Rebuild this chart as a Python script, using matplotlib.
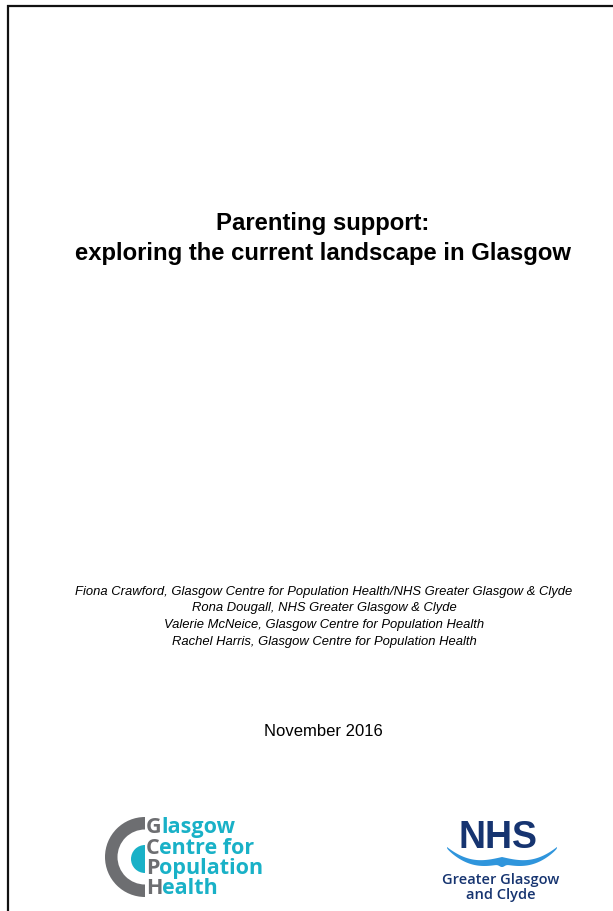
import matplotlib
matplotlib.use("Agg")
import matplotlib.pyplot as plt
from matplotlib.patches import Wedge, Polygon
import numpy as np

W, H = 613, 911
title_lines = ["Parenting support:", "exploring the current landscape in Glasgow"]
author_lines = [
    "Fiona Crawford, Glasgow Centre for Population Health/NHS Greater Glasgow & Clyde",
    "Rona Dougall, NHS Greater Glasgow & Clyde",
    "Valerie McNeice, Glasgow Centre for Population Health",
    "Rachel Harris, Glasgow Centre for Population Health",
]
date_text = "November 2016"
gcph_words = ["Glasgow", "Centre for", "Population", "Health"]
nhs_lines = ["Greater Glasgow", "and Clyde"]

GRAY = "#6d6e71"
TEAL = "#19b1c7"
NAVY = "#163470"
BLUE = "#2f95dc"

fig = plt.figure(figsize=(W / 100, H / 100), dpi=100)
ax = fig.add_axes([0, 0, 1, 1])
ax.set_xlim(0, W)
ax.set_ylim(H, 0)
ax.set_aspect("equal")
ax.axis("off")

# page border (left and top)
ax.plot([8, 8], [5, H], color="#111111", lw=1.6, solid_capstyle="butt")
ax.plot([7, W], [5.5, 5.5], color="#111111", lw=1.6, solid_capstyle="butt")

fam = ["Liberation Sans", "DejaVu Sans"]
cx = 323
ax.text(cx, 230, title_lines[0], ha="center", va="baseline", fontsize=17.2,
        fontweight="bold", family=fam, color="#000000")
ax.text(cx, 260, title_lines[1], ha="center", va="baseline", fontsize=17.2,
        fontweight="bold", family=fam, color="#000000")

for i, line in enumerate(author_lines):
    ax.text(324, 595 + i * 16.5, line, ha="center", va="baseline", fontsize=9.4,
            style="italic", family=fam, color="#000000")

ax.text(323, 736, date_text, ha="center", va="baseline", fontsize=12,
        family=fam, color="#000000")

# GCPH logo
ax.add_patch(Wedge((145, 857), 40, 90, 270, width=12.5, facecolor=GRAY, edgecolor="none"))
ax.add_patch(Wedge((145, 859), 14, 90, 270, facecolor=TEAL, edgecolor="none"))

fig.canvas.draw()
renderer = fig.canvas.get_renderer()
baselines = [833, 854, 874, 894]
for word, yb in zip(gcph_words, baselines):
    t1 = ax.text(146, yb, word[0], ha="left", va="baseline", fontsize=15.5,
                 fontweight="bold", family=["Open Sans", "DejaVu Sans"], color=GRAY)
    bb = t1.get_window_extent(renderer)
    x_end = ax.transData.inverted().transform((bb.x1, bb.y0))[0]
    ax.text(x_end - 0.5, yb, word[1:], ha="left", va="baseline", fontsize=15.5,
            fontweight="bold", family=["Open Sans", "DejaVu Sans"], color=TEAL)

# NHS logo
ax.text(498, 848, "NHS", ha="center", va="baseline", fontsize=27,
        fontweight="bold", family=fam, color=NAVY)
# wave: two bowl-shaped wings meeting in a small drooping point at the centre
u = np.linspace(0, 1, 80)
def wing(sign):
    xs = 502 + sign * 55 * u
    upper = 857 - 10 * u ** 3 + 4 * np.sin(np.pi * u)
    lower = upper + 1 + 6 * np.sqrt(1 - u) + 3 * np.exp(-(u / 0.06) ** 2)
    return np.vstack([np.column_stack([xs, upper]),
                      np.column_stack([xs, lower])[::-1]])
for s in (-1, 1):
    ax.add_patch(Polygon(wing(s), closed=True, facecolor=BLUE, edgecolor="none"))

ax.text(501, 884, nhs_lines[0], ha="center", va="baseline", fontsize=10.5,
        family=["Open Sans", "DejaVu Sans"], fontweight="semibold", color=NAVY)
ax.text(501, 899, nhs_lines[1], ha="center", va="baseline", fontsize=10.5,
        family=["Open Sans", "DejaVu Sans"], fontweight="semibold", color=NAVY)

fig.savefig("out.png", dpi=100, facecolor="white")
